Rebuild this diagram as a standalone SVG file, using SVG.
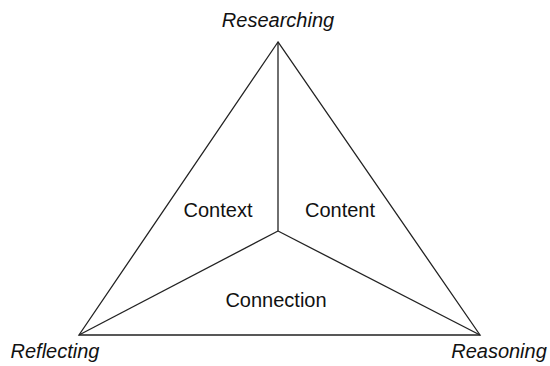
<svg xmlns="http://www.w3.org/2000/svg" width="550" height="366" viewBox="0 0 550 366">
<style>
.ln{stroke:#222;stroke-width:1.3;fill:none;stroke-linejoin:miter}
.lbl{font-family:"Liberation Sans",Arial,sans-serif;font-size:20px;fill:#111;text-anchor:middle}
.it{font-style:italic}
</style>
<rect width="550" height="366" fill="#fff"/>
<g id="connectors">
<polygon class="ln" points="278,42 79,335 480,335"/>
<line class="ln" x1="278" y1="231" x2="278" y2="42"/>
<line class="ln" x1="278" y1="231" x2="79" y2="335"/>
<line class="ln" x1="278" y1="231" x2="480" y2="335"/>
</g>
<g id="researching"><text class="lbl it" x="278" y="27">Researching</text></g>
<g id="reflecting"><text class="lbl it" x="55" y="358">Reflecting</text></g>
<g id="reasoning"><text class="lbl it" x="499" y="358">Reasoning</text></g>
<g id="context"><text class="lbl" x="218" y="217">Context</text></g>
<g id="content"><text class="lbl" x="340" y="217">Content</text></g>
<g id="connection"><text class="lbl" x="276" y="307">Connection</text></g>
</svg>
